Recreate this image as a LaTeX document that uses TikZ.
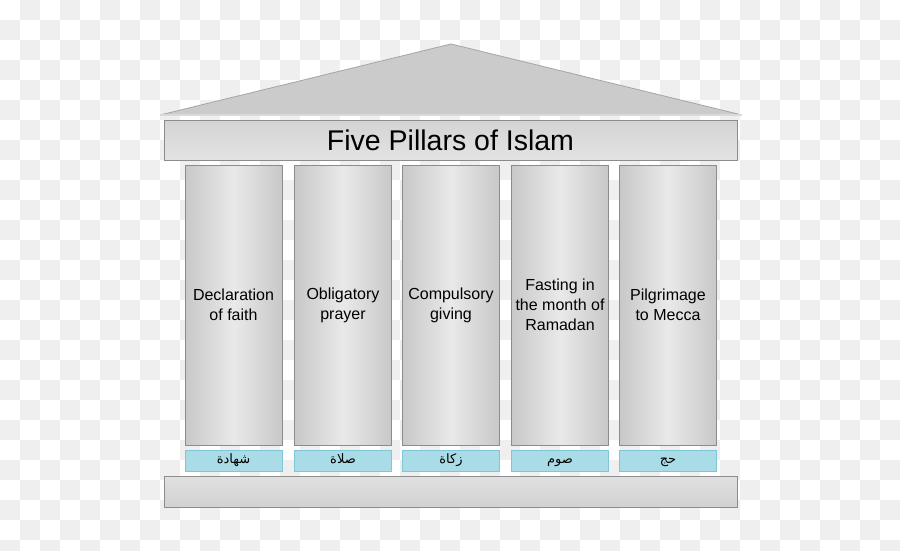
\documentclass[tikz,border=0pt]{standalone}
\usepackage{fontspec}
\setmainfont{Liberation Sans}
\newfontfamily\arabicfont[Script=Arabic]{DejaVu Sans}
\TeXXeTstate=1
\usetikzlibrary{positioning}

\definecolor{checkgray}{RGB}{239,239,239}
\definecolor{edgegray}{RGB}{140,140,140}
\definecolor{pillaredge}{RGB}{200,200,200}
\definecolor{pillarmid}{RGB}{233,233,233}
\definecolor{roofgray}{RGB}{203,203,203}
\definecolor{roofline}{RGB}{165,165,165}
\definecolor{labelblue}{RGB}{170,220,232}
\definecolor{labelline}{RGB}{128,198,214}

\begin{document}
\begin{tikzpicture}[
        x=1pt, y=-1pt,
        pillar/.style={rectangle, draw=edgegray, line width=0.8pt, minimum width=97pt, minimum height=280pt,
            left color=pillaredge, right color=pillaredge, middle color=pillarmid,
            align=center, font=\fontsize{16}{20}\selectfont, inner sep=0pt},
        namebox/.style={rectangle, draw=labelline, line width=0.6pt, fill=labelblue,
            minimum width=97pt, minimum height=21pt, inner sep=0pt, text height=9pt, text depth=4pt,
            font=\arabicfont\fontsize{13}{15}\selectfont},
        beam/.style={rectangle, draw=edgegray, line width=0.8pt, minimum width=573pt, inner sep=0pt,
            top color=black!17, bottom color=black!11}
    ]
        \useasboundingbox (0,0) rectangle (900,551);

        % background: checkerboard
        \fill[white] (0,0) rectangle (900,551);
        \begin{scope}
            \clip (0,0) rectangle (900,551);
            \foreach \i in {0,...,44} {
                \foreach \j in {0,...,27} {
                    \pgfmathtruncatemacro\k{mod(\i+\j,2)}
                    \ifnum\k=1
                        \fill[checkgray] (20*\i,20*\j) rectangle ++(20,20);
                    \fi
                }
            }
        \end{scope}

        % roof
        \coordinate (roofL) at (160,115);
        \coordinate (roofT) at (451,44);
        \coordinate (roofR) at (742,115);
        \fill[roofgray] (roofL) -- (roofT) -- (roofR) -- cycle;
        \draw[roofline, line width=0.8pt] (roofL) -- (roofT) -- (roofR);
        \draw[white!85!black, line width=1.2pt] (roofL) -- (roofR);

        % beam with title
        \node[beam, minimum height=40pt, font=\fontsize{28.5}{34}\selectfont] (title) at (450.5,140) {Five Pillars of Islam};

        % pillars
        \node[pillar] (P1) at (233.5,305) {Declaration\\of faith};
        \node[pillar] (P2) at (343,305) {Obligatory\\prayer};
        \node[pillar] (P3) at (451,305) {Compulsory\\giving};
        \node[pillar] (P4) at (560,305) {Fasting in\\the month of\\Ramadan};
        \node[pillar] (P5) at (668,305) {Pilgrimage\\to Mecca};

        % arabic names
        \node[namebox, below=5pt of P1] (A1) {\beginR شهادة\endR};
        \node[namebox, below=5pt of P2] (A2) {\beginR صلاة\endR};
        \node[namebox, below=5pt of P3] (A3) {\beginR زكاة\endR};
        \node[namebox, below=5pt of P4] (A4) {\beginR صوم\endR};
        \node[namebox, below=5pt of P5] (A5) {\beginR حج\endR};

        % base
        \node[beam, minimum height=31pt, top color=black!12, bottom color=black!18] (base) at (450.5,491.5) {};
    \end{tikzpicture}
\end{document}
